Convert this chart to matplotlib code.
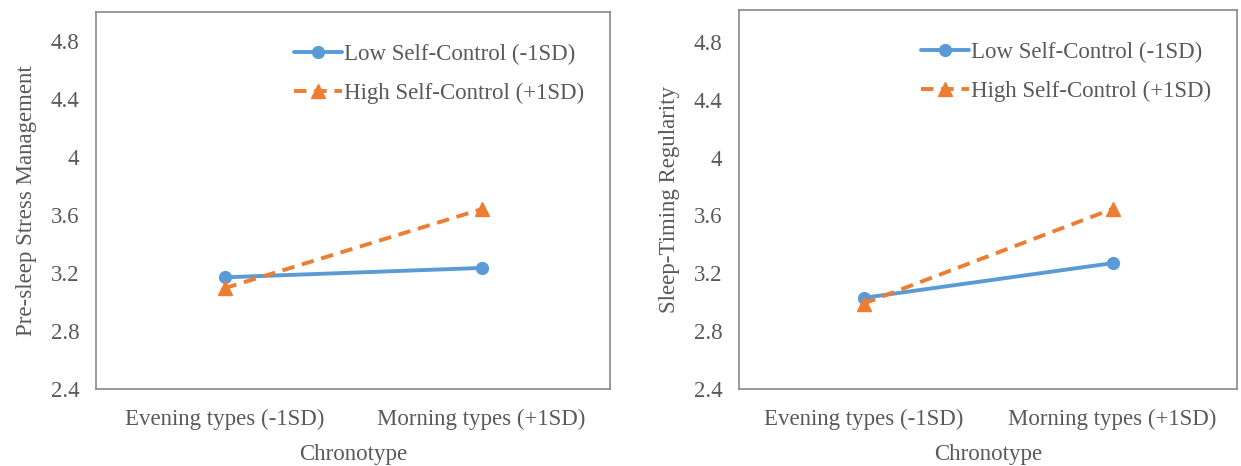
import matplotlib
matplotlib.use("Agg")
import matplotlib.pyplot as plt

categories = ["Evening types (-1SD)", "Morning types (+1SD)"]
series_names = ["Low Self-Control (-1SD)", "High Self-Control (+1SD)"]
stress_low = [3.17, 3.235]
stress_high = [3.095, 3.64]
timing_low = [3.03, 3.27]
timing_high = [2.99, 3.645]
y_ticks = [2.4, 2.8, 3.2, 3.6, 4.0, 4.4, 4.8]
y_tick_labels = ["2.4", "2.8", "3.2", "3.6", "4", "4.4", "4.8"]
ylabels = ["Pre-sleep Stress Management", "Sleep-Timing Regularity"]
xlabel = "Chronotype"

plt.rcParams['font.family'] = ['Liberation Serif', 'DejaVu Serif']
BLUE = "#5B9BD5"
ORANGE = "#ED7D31"
TXT = "#595959"
FS = 16.5

fig = plt.figure(figsize=(12.41, 4.66), dpi=100)
ax1 = fig.add_axes([96/1241, 1-389/466, (610-96)/1241, (389-12)/466])
ax2 = fig.add_axes([739/1241, 1-389/466, (1237-739)/1241, (389-10)/466])

for ax, low, high, yl in [(ax1, stress_low, stress_high, ylabels[0]),
                          (ax2, timing_low, timing_high, ylabels[1])]:
    x = list(range(len(categories)))
    ax.plot(x, low, color=BLUE, lw=2.8, marker='o', ms=8.5, label=series_names[0],
            solid_capstyle='round')
    ax.plot(x, high, color=ORANGE, lw=2.8, ls=(0, (3.2, 2.0)), marker='^', ms=9.5,
            label=series_names[1])
    ax.set_xlim(-0.5, 1.5)
    ax.set_ylim(2.4, 5.0 if ax is ax1 else 5.02)
    ax.set_yticks(y_ticks)
    ax.set_yticklabels(y_tick_labels)
    ax.set_xticks(x)
    ax.set_xticklabels(categories)
    ax.tick_params(length=0, labelsize=FS, colors=TXT)
    ax.tick_params(axis='x', pad=14.5)
    ax.tick_params(axis='y', pad=12)
    for s in ax.spines.values():
        s.set_color("#888888")
        s.set_linewidth(1.2)
    ax.set_ylabel(yl, fontsize=FS, color=TXT, labelpad=10)
    ax.set_xlabel(xlabel, fontsize=FS, color=TXT, labelpad=10)
    ax.legend(loc='upper right', bbox_to_anchor=(0.99, 0.97), frameon=False,
              fontsize=FS, labelcolor=TXT, handlelength=2.1, handletextpad=0.1,
              borderaxespad=0.5, labelspacing=0.78)

fig.savefig("out.png", dpi=100)
